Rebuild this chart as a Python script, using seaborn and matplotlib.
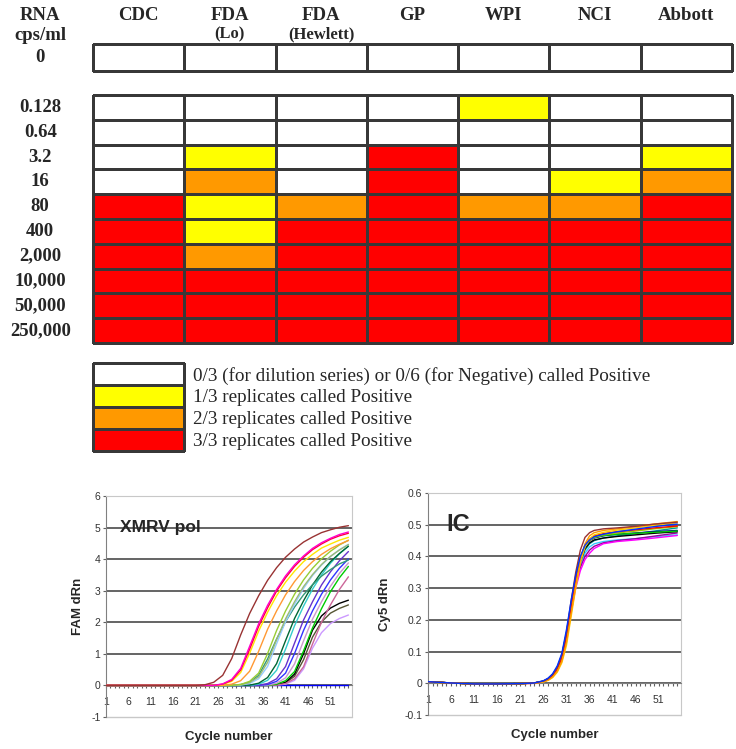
"""
XMRV 检测结果热图与扩增曲线复现脚本。

上半部分：各实验室对稀释系列的阳性判定（热图 + 图例）；
下半部分：XMRV pol (FAM) 与内参 IC (Cy5) 的实时荧光扩增曲线。
"""

import matplotlib

matplotlib.use("Agg")

import matplotlib.pyplot as plt
import numpy as np
import pandas as pd
import seaborn as sns
from matplotlib.colors import ListedColormap
from matplotlib.ticker import FixedLocator, MultipleLocator

FIG_W, FIG_H = 736, 749
SERIF = ["Liberation Serif", "DejaVu Serif"]
SANS = ["Liberation Sans", "DejaVu Sans"]

# ---- 热图数据 ----
SITES = ["CDC", "FDA", "FDA", "GP", "WPI", "NCI", "Abbott"]
SITE_NOTES = ["", "(Lo)", "(Hewlett)", "", "", "", ""]
NEGATIVE_CALLS = [0, 0, 0, 0, 0, 0, 0]
DILUTIONS = ["0.128", "0.64", "3.2", "16", "80", "400", "2,000", "10,000", "50,000", "250,000"]
CDC = [0, 0, 0, 0, 3, 3, 3, 3, 3, 3]
FDA_LO = [0, 0, 1, 2, 1, 1, 2, 3, 3, 3]
FDA_HEWLETT = [0, 0, 0, 0, 2, 3, 3, 3, 3, 3]
GP = [0, 0, 3, 3, 3, 3, 3, 3, 3, 3]
WPI = [1, 0, 0, 0, 2, 3, 3, 3, 3, 3]
NCI = [0, 0, 0, 1, 2, 3, 3, 3, 3, 3]
ABBOTT = [0, 0, 1, 2, 3, 3, 3, 3, 3, 3]

LEVEL_COLORS = ["#FFFFFF", "#FFFF00", "#FF9900", "#FF0000"]
LEGEND_LABELS = [
    "0/3 (for dilution series) or 0/6 (for Negative) called Positive",
    "1/3 replicates called Positive",
    "2/3 replicates called Positive",
    "3/3 replicates called Positive",
]

# ---- FAM 扩增曲线（XMRV pol）----
FAM_CYCLES = [1, 21, 23, 25, 27, 29, 31, 33, 35, 37, 39, 41, 43, 45, 47, 49, 51, 53, 55]
FAM_BROWN = [0, 0, 0.02, 0.10, 0.32, 0.85, 1.60, 2.28, 2.84, 3.33, 3.73, 4.06, 4.32, 4.54, 4.70, 4.84, 4.93, 5.01, 5.06]
FAM_MAGENTA = [0, 0, 0, 0, 0.05, 0.19, 0.54, 1.24, 1.95, 2.54, 3.04, 3.47, 3.82, 4.10, 4.34, 4.52, 4.66, 4.78, 4.86]
FAM_RED = [0, 0, 0, 0, 0.04, 0.16, 0.49, 1.15, 1.87, 2.46, 2.99, 3.41, 3.77, 4.06, 4.30, 4.48, 4.63, 4.74, 4.82]
FAM_YELLOW = [0, 0, 0, 0, 0.03, 0.13, 0.41, 1.02, 1.72, 2.32, 2.84, 3.27, 3.62, 3.92, 4.15, 4.35, 4.48, 4.60, 4.69]
FAM_ORANGE = [0, 0, 0, 0, 0, 0.04, 0.15, 0.45, 1.08, 1.78, 2.36, 2.87, 3.29, 3.64, 3.92, 4.15, 4.33, 4.47, 4.59]
FAM_LIME = [0, 0, 0, 0, 0, 0, 0.03, 0.13, 0.39, 1.01, 1.74, 2.36, 2.89, 3.34, 3.71, 4.01, 4.25, 4.45, 4.60]
FAM_OLIVE = [0, 0, 0, 0, 0, 0, 0.02, 0.09, 0.27, 0.73, 1.45, 2.11, 2.65, 3.13, 3.51, 3.83, 4.09, 4.29, 4.46]
FAM_SKY = [0, 0, 0, 0, 0, 0, 0.01, 0.06, 0.21, 0.60, 1.32, 2.02, 2.57, 3.07, 3.48, 3.81, 4.08, 4.30, 4.47]
FAM_SEAGREEN = [0, 0, 0, 0, 0, 0, 0.03, 0.10, 0.32, 0.84, 1.47, 2.02, 2.48, 2.87, 3.19, 3.46, 3.67, 3.85, 3.97]
FAM_DARKGREEN = [0, 0, 0, 0, 0, 0, 0, 0.01, 0.07, 0.25, 0.69, 1.42, 2.12, 2.68, 3.18, 3.59, 3.92, 4.18, 4.41]
FAM_CYAN = [0, 0, 0, 0, 0, 0, 0, 0, 0.04, 0.16, 0.48, 1.15, 1.89, 2.51, 3.05, 3.50, 3.87, 4.17, 4.41]
FAM_PURPLE = [0, 0, 0, 0, 0, 0, 0, 0, 0.01, 0.06, 0.21, 0.60, 1.34, 2.07, 2.65, 3.18, 3.60, 3.95, 4.24]
FAM_BLUE = [0, 0, 0, 0, 0, 0, 0, 0, 0, 0.03, 0.13, 0.39, 1.01, 1.74, 2.36, 2.89, 3.34, 3.71, 4.01]
FAM_PLUM = [0, 0, 0, 0, 0, 0, 0, 0, 0, 0.01, 0.07, 0.24, 0.68, 1.41, 2.10, 2.65, 3.14, 3.55, 3.88]
FAM_GREEN = [0, 0, 0, 0, 0, 0, 0, 0, 0, 0, 0.04, 0.15, 0.44, 1.09, 1.82, 2.43, 2.97, 3.41, 3.77]
FAM_MAUVE = [0, 0, 0, 0, 0, 0, 0, 0, 0, 0, 0.01, 0.06, 0.21, 0.59, 1.31, 2.00, 2.55, 3.04, 3.44]
FAM_BLACK = [0, 0, 0, 0, 0, 0, 0, 0, 0, 0, 0.02, 0.10, 0.36, 1.00, 1.75, 2.20, 2.45, 2.60, 2.70]
FAM_DARKOLIVE = [0, 0, 0, 0, 0, 0, 0, 0, 0, 0, 0.01, 0.08, 0.29, 0.81, 1.53, 2.01, 2.29, 2.44, 2.55]
FAM_LAVENDER = [0, 0, 0, 0, 0, 0, 0, 0, 0, 0, 0.01, 0.04, 0.16, 0.52, 1.18, 1.67, 1.96, 2.12, 2.23]
FAM_NEG_CYCLES = [1, 55]
FAM_NEGATIVE = [0, 0]

FAM_COLORS = {
    "brown": "#993333", "magenta": "#FF00CC", "red": "#FF0033", "yellow": "#FFE600",
    "orange": "#FF9933", "lime": "#99CC33", "olive": "#99BB77", "sky": "#99CCFF",
    "seagreen": "#339977", "darkgreen": "#006633", "cyan": "#33CCCC", "purple": "#6633CC",
    "blue": "#3333FF", "plum": "#CC99CC", "green": "#00CC00", "mauve": "#CC6699",
    "black": "#000000", "darkolive": "#555533", "lavender": "#CC99FF", "negative": "#0000FF",
}

# ---- Cy5 扩增曲线（IC 内参）----
IC_CYCLES = [1, 6, 11, 16, 21, 24, 26, 27, 28, 29, 30, 31, 32, 33, 34, 35, 36, 37, 39, 42, 46, 50, 55]
IC_BROWN = [0.005, 0.001, -0.002, -0.002, -0.001, 0.001, 0.007, 0.014, 0.028, 0.050, 0.090, 0.160, 0.260, 0.350, 0.420, 0.460, 0.475, 0.482, 0.487, 0.490, 0.495, 0.502, 0.508]
IC_ORANGE = [0.004, 0.001, -0.002, -0.002, -0.001, 0.000, 0.005, 0.010, 0.020, 0.038, 0.070, 0.130, 0.220, 0.310, 0.390, 0.440, 0.465, 0.475, 0.482, 0.487, 0.494, 0.502, 0.510]
IC_YELLOW = [0.004, 0.001, -0.002, -0.002, -0.001, 0.000, 0.004, 0.009, 0.018, 0.035, 0.065, 0.120, 0.210, 0.300, 0.380, 0.430, 0.455, 0.468, 0.476, 0.483, 0.490, 0.498, 0.506]
IC_BLUE = [0.005, 0.001, -0.002, -0.002, -0.001, 0.001, 0.008, 0.016, 0.030, 0.055, 0.095, 0.170, 0.260, 0.340, 0.400, 0.435, 0.452, 0.462, 0.470, 0.478, 0.486, 0.494, 0.502]
IC_NAVY = [0.005, 0.001, -0.002, -0.002, -0.001, 0.001, 0.007, 0.015, 0.028, 0.050, 0.090, 0.160, 0.250, 0.335, 0.395, 0.432, 0.450, 0.458, 0.465, 0.470, 0.474, 0.478, 0.482]
IC_BLACK = [0.005, 0.001, -0.002, -0.002, -0.001, 0.001, 0.006, 0.012, 0.025, 0.045, 0.080, 0.150, 0.240, 0.320, 0.385, 0.425, 0.443, 0.452, 0.458, 0.463, 0.468, 0.473, 0.478]
IC_GREEN = [0.005, 0.001, -0.002, -0.002, -0.001, 0.001, 0.006, 0.013, 0.026, 0.047, 0.085, 0.155, 0.245, 0.330, 0.395, 0.435, 0.452, 0.460, 0.466, 0.470, 0.473, 0.476, 0.480]
IC_CYAN = [0.005, 0.001, -0.002, -0.002, -0.001, 0.001, 0.006, 0.012, 0.025, 0.045, 0.080, 0.145, 0.230, 0.310, 0.370, 0.410, 0.430, 0.440, 0.447, 0.452, 0.456, 0.462, 0.468]
IC_MAGENTA = [0.005, 0.001, -0.002, -0.002, -0.001, 0.000, 0.005, 0.011, 0.022, 0.040, 0.075, 0.140, 0.225, 0.300, 0.355, 0.390, 0.410, 0.425, 0.440, 0.447, 0.452, 0.458, 0.466]
IC_RED = [0.005, 0.001, -0.002, -0.002, -0.001, 0.001, 0.006, 0.012, 0.025, 0.045, 0.080, 0.150, 0.240, 0.325, 0.390, 0.435, 0.455, 0.465, 0.472, 0.478, 0.484, 0.490, 0.496]
IC_PURPLE = [0.005, 0.001, -0.002, -0.002, -0.001, 0.000, 0.005, 0.011, 0.022, 0.040, 0.075, 0.140, 0.230, 0.310, 0.365, 0.400, 0.420, 0.432, 0.443, 0.450, 0.456, 0.464, 0.474]
IC_TEAL = [0.005, 0.001, -0.002, -0.002, -0.001, 0.001, 0.006, 0.012, 0.025, 0.045, 0.080, 0.150, 0.240, 0.320, 0.380, 0.420, 0.440, 0.450, 0.458, 0.465, 0.472, 0.480, 0.490]
IC_LIME = [0.005, 0.001, -0.002, -0.002, -0.001, 0.001, 0.006, 0.012, 0.024, 0.044, 0.080, 0.148, 0.238, 0.322, 0.388, 0.430, 0.450, 0.460, 0.468, 0.474, 0.480, 0.487, 0.494]

IC_COLORS = {
    "brown": "#993333", "orange": "#FF9900", "yellow": "#FFCC00", "blue": "#0033FF",
    "navy": "#000080", "black": "#000000", "green": "#00CC00", "cyan": "#33CCFF",
    "magenta": "#FF00FF", "red": "#FF0000", "purple": "#990099", "teal": "#009999",
    "lime": "#99CC00",
}


def px(x: float, y: float) -> tuple[float, float]:
    """像素坐标（左上原点）转为 figure 坐标。"""
    return x / FIG_W, 1 - y / FIG_H


def axes_rect(left: float, top: float, right: float, bottom: float) -> list[float]:
    """由像素边界得到 add_axes 所需的矩形。"""
    return [left / FIG_W, 1 - bottom / FIG_H, (right - left) / FIG_W, (bottom - top) / FIG_H]


def draw_calls(fig: plt.Figure) -> None:
    """绘制各实验室阳性判定热图及图例。"""
    cmap = ListedColormap(LEVEL_COLORS)
    heat_kw = dict(cmap=cmap, vmin=-0.5, vmax=3.5, cbar=False, linewidths=0.75, linecolor="#383838")

    ax_neg = fig.add_axes(axes_rect(93, 44, 732, 71))
    sns.heatmap(np.array([NEGATIVE_CALLS]), ax=ax_neg, xticklabels=False, yticklabels=["0"], **heat_kw)

    calls = pd.DataFrame(
        {"CDC": CDC, "FDA Lo": FDA_LO, "FDA Hewlett": FDA_HEWLETT, "GP": GP,
         "WPI": WPI, "NCI": NCI, "Abbott": ABBOTT},
        index=DILUTIONS,
    )
    ax_dil = fig.add_axes(axes_rect(93, 95, 732, 343))
    sns.heatmap(calls, ax=ax_dil, xticklabels=False, yticklabels=True, **heat_kw)

    for ax in (ax_neg, ax_dil):
        ax.collections[0].set_clip_on(False)
        ax.set_xlabel("")
        ax.set_ylabel("")
        ax.tick_params(axis="y", length=0, pad=38)
        for label in ax.get_yticklabels():
            label.set_rotation(0)
            label.set_ha("center")
            label.set_family(SERIF)
            label.set_weight("bold")
            label.set_size(13.5)

    header_kw = dict(ha="center", va="center", family=SERIF, weight="bold")
    fig.text(*px(40, 16), "RNA", size=13.5, **header_kw)
    fig.text(*px(40, 35), "cps/ml", size=13.5, **header_kw)
    col_w = (732 - 93) / len(SITES)
    for i, (site, note) in enumerate(zip(SITES, SITE_NOTES)):
        cx = 93 + col_w * (i + 0.5)
        fig.text(*px(cx, 16), site, size=13.5, **header_kw)
        if note:
            fig.text(*px(cx, 34), note, size=12, **header_kw)

    ax_leg = fig.add_axes(axes_rect(93, 363, 184, 451))
    sns.heatmap(np.array([[0], [1], [2], [3]]), ax=ax_leg, xticklabels=False,
                yticklabels=LEGEND_LABELS, **heat_kw)
    ax_leg.collections[0].set_clip_on(False)
    ax_leg.yaxis.tick_right()
    ax_leg.tick_params(axis="y", length=0, pad=6.5)
    for label in ax_leg.get_yticklabels():
        label.set_rotation(0)
        label.set_ha("left")
        label.set_family(SERIF)
        label.set_size(13.8)


def long_frame(series: dict[str, tuple[list[float], list[float]]]) -> pd.DataFrame:
    """把若干条曲线整理成 seaborn 使用的长表。"""
    parts = [
        pd.DataFrame({"cycle": cycles, "value": values, "curve": name})
        for name, (cycles, values) in series.items()
    ]
    return pd.concat(parts, ignore_index=True)


def draw_amplification(ax, data, colors, ylim, ystep, yfmt, ylabel, ylabel_x, title, title_xy, title_size):
    """Excel 风格的扩增曲线图：横轴位于 y=0，浅灰色外框，深灰色网格线。"""
    ax.set_xlim(1, 55.8)
    ax.set_ylim(*ylim)
    yticks = np.round(np.arange(ylim[0], ylim[1] + ystep / 2, ystep), 3)
    for v in yticks[1:-1]:
        ax.axhline(v, color="#4a4a4a", lw=1.2, zorder=1)
    ax.axhline(ylim[0], color="#c8c8c8", lw=1.0, clip_on=False, zorder=1)

    sns.lineplot(data=data, x="cycle", y="value", hue="curve", palette=colors,
                 legend=False, ax=ax, linewidth=1.0, estimator=None, zorder=3)

    ax.spines["bottom"].set_position(("data", 0))
    ax.spines["bottom"].set_color("#808080")
    ax.spines["left"].set_color("#808080")
    for side in ("top", "right"):
        ax.spines[side].set_visible(True)
        ax.spines[side].set_color("#c8c8c8")

    ax.xaxis.set_major_locator(FixedLocator([1, 6, 11, 16, 21, 26, 31, 36, 41, 46, 51]))
    ax.xaxis.set_minor_locator(MultipleLocator(1))
    ax.tick_params(axis="x", which="both", direction="out", length=2.5, width=0.8,
                   color="#606060", labelsize=7.5, labelcolor="#333333", pad=6, bottom=True)
    ax.set_yticks(yticks)
    ax.set_yticklabels([yfmt(v) for v in yticks])
    ax.tick_params(axis="y", direction="out", length=2.5, width=0.8, color="#606060",
                   labelsize=7.5, labelcolor="#333333", pad=1.5, left=True)
    for label in ax.get_xticklabels() + ax.get_yticklabels():
        label.set_family(SANS)

    ax.set_xlabel("Cycle number", family=SANS, weight="bold", size=9.5)
    ax.xaxis.set_label_coords(0.5, -0.065)
    ax.set_ylabel(ylabel, family=SANS, weight="bold", size=9.5)
    ax.yaxis.set_label_coords(ylabel_x, 0.5)

    ax.text(*title_xy, title, family=SANS, weight="bold", size=title_size,
            ha="left", va="center", zorder=2)


def main() -> None:
    sns.set_style("white")
    plt.rcParams["font.family"] = SANS

    fig = plt.figure(figsize=(FIG_W / 100, FIG_H / 100), dpi=100)
    draw_calls(fig)

    fam = long_frame({
        "negative": (FAM_NEG_CYCLES, FAM_NEGATIVE),
        "lavender": (FAM_CYCLES, FAM_LAVENDER), "darkolive": (FAM_CYCLES, FAM_DARKOLIVE),
        "black": (FAM_CYCLES, FAM_BLACK), "mauve": (FAM_CYCLES, FAM_MAUVE),
        "green": (FAM_CYCLES, FAM_GREEN), "plum": (FAM_CYCLES, FAM_PLUM),
        "blue": (FAM_CYCLES, FAM_BLUE), "purple": (FAM_CYCLES, FAM_PURPLE),
        "cyan": (FAM_CYCLES, FAM_CYAN), "darkgreen": (FAM_CYCLES, FAM_DARKGREEN),
        "seagreen": (FAM_CYCLES, FAM_SEAGREEN), "sky": (FAM_CYCLES, FAM_SKY),
        "olive": (FAM_CYCLES, FAM_OLIVE), "lime": (FAM_CYCLES, FAM_LIME),
        "orange": (FAM_CYCLES, FAM_ORANGE), "yellow": (FAM_CYCLES, FAM_YELLOW),
        "red": (FAM_CYCLES, FAM_RED), "magenta": (FAM_CYCLES, FAM_MAGENTA),
        "brown": (FAM_CYCLES, FAM_BROWN),
    })
    ic = long_frame({
        "cyan": (IC_CYCLES, IC_CYAN), "teal": (IC_CYCLES, IC_TEAL),
        "purple": (IC_CYCLES, IC_PURPLE), "magenta": (IC_CYCLES, IC_MAGENTA),
        "black": (IC_CYCLES, IC_BLACK), "navy": (IC_CYCLES, IC_NAVY),
        "green": (IC_CYCLES, IC_GREEN), "lime": (IC_CYCLES, IC_LIME),
        "red": (IC_CYCLES, IC_RED), "yellow": (IC_CYCLES, IC_YELLOW),
        "orange": (IC_CYCLES, IC_ORANGE), "brown": (IC_CYCLES, IC_BROWN),
        "blue": (IC_CYCLES, IC_BLUE),
    })

    ax_fam = fig.add_axes(axes_rect(106, 496, 352, 717))
    draw_amplification(ax_fam, fam, FAM_COLORS, (-1, 6), 1, lambda v: f"{v:g}",
                       "FAM dRn", -0.09, "XMRV pol", (4.1, 5.0), 12.5)

    ax_ic = fig.add_axes(axes_rect(428, 493, 681, 715))
    draw_amplification(ax_ic, ic, IC_COLORS, (-0.1, 0.6), 0.1, lambda v: f"{v:g}",
                       "Cy5 dRn", -0.145, "IC", (5.0, 0.5), 17)

    fig.savefig("out.png", dpi=100)
    plt.close(fig)


if __name__ == "__main__":
    main()
